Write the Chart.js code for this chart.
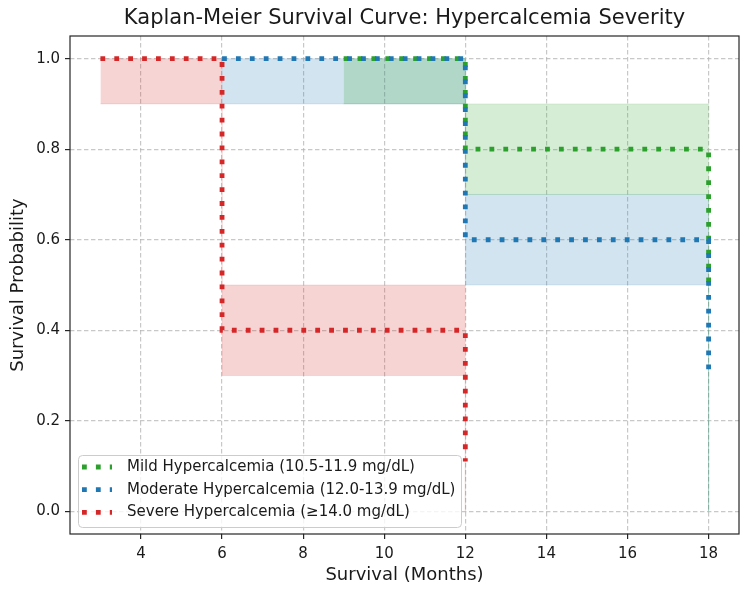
<!DOCTYPE html>
<html>
<head>
<meta charset="utf-8">
<script src="https://cdn.jsdelivr.net/npm/chart.js@4.4.0/dist/chart.umd.min.js"></script>
<style>
  html, body { margin: 0; padding: 0; background: #fff; }
</style>
</head>
<body>
<canvas id="grafico" width="750" height="596"></canvas>
<script>
// Survival steps (months / probability)
var mildTimes = [9, 12, 18];
var mildSurv = [1.0, 0.8, 0.5];
var mildLower = [0.9, 0.7, 0];
var mildUpper = [1.0, 0.9, 0];

var moderateTimes = [6, 12, 18];
var moderateSurv = [1.0, 0.6, 0.31];
var moderateLower = [0.9, 0.5, 0];
var moderateUpper = [1.0, 0.7, 0];

var severeTimes = [3, 6, 12];
var severeSurv = [1.0, 0.4, 0.11];
var severeLower = [0.9, 0.3, 0];
var severeUpper = [1.0, 0.5, 0];

var groupLabels = [
    'Mild Hypercalcemia (10.5-11.9 mg/dL)',
    'Moderate Hypercalcemia (12.0-13.9 mg/dL)',
    'Severe Hypercalcemia (\u226514.0 mg/dL)'
];
var groupColors = ['#2ca02c', '#1f77b4', '#d62728'];
var bandColors = ['rgba(44,160,44,0.2)', 'rgba(31,119,180,0.2)', 'rgba(214,39,40,0.2)'];
var bandEdges = ['rgba(44,160,44,0.12)', 'rgba(31,119,180,0.12)', 'rgba(214,39,40,0.12)'];

var xTicks = [4, 6, 8, 10, 12, 14, 16, 18];
var yTicks = [0, 0.2, 0.4, 0.6, 0.8, 1.0];

var titulo = 'Kaplan-Meier Survival Curve: Hypercalcemia Severity';
var fonte = 'DejaVu Sans';
var dotDash = [4.8, 9.1];

function pontos(times, values) {
    return times.map(function (t, i) { return { x: t, y: values[i] }; });
}

// in Chart.js 'before' gives the horizontal-then-vertical step here
function banda(times, values, idx, fillTarget) {
    return {
        data: pontos(times, values),
        stepped: 'before',
        borderColor: bandEdges[idx],
        borderWidth: 1,
        backgroundColor: bandColors[idx],
        pointRadius: 0,
        fill: fillTarget,
        order: 10
    };
}

function curva(times, values, idx) {
    return {
        label: groupLabels[idx],
        data: pontos(times, values),
        stepped: 'before',
        borderColor: groupColors[idx],
        borderWidth: 4.8,
        borderDash: dotDash,
        borderCapStyle: 'butt',
        pointRadius: 0,
        fill: false,
        order: 3 - idx,
        isCurve: true
    };
}

var datasets = [
    banda(mildTimes, mildLower, 0, false),
    banda(mildTimes, mildUpper, 0, 0),
    banda(moderateTimes, moderateLower, 1, false),
    banda(moderateTimes, moderateUpper, 1, 2),
    banda(severeTimes, severeLower, 2, false),
    banda(severeTimes, severeUpper, 2, 4),
    curva(mildTimes, mildSurv, 0),
    curva(moderateTimes, moderateSurv, 1),
    curva(severeTimes, severeSurv, 2)
];

// frame, title and legend like matplotlib
var extras = {
    id: 'extras',
    afterDraw: function (chart) {
        var ctx = chart.ctx;
        var a = chart.chartArea;
        ctx.save();

        ctx.fillStyle = '#1a1a1a';
        ctx.font = '21px "' + fonte + '"';
        ctx.textAlign = 'center';
        ctx.textBaseline = 'middle';
        ctx.fillText(titulo, (a.left + a.right) / 2, 19);

        // legenda
        var bx = a.left + 8, by = a.bottom - 79, bw = 383, bh = 72;
        ctx.beginPath();
        ctx.roundRect(bx + 0.5, by + 0.5, bw, bh, 4);
        ctx.fillStyle = 'rgba(255,255,255,0.8)';
        ctx.fill();
        ctx.strokeStyle = '#cccccc';
        ctx.lineWidth = 1;
        ctx.stroke();

        var curvas = chart.data.datasets.filter(function (d) { return d.isCurve; });
        ctx.font = '15px "' + fonte + '"';
        ctx.textAlign = 'left';
        curvas.forEach(function (d, i) {
            var cy = by + 12 + i * 22.7;
            ctx.beginPath();
            ctx.setLineDash(dotDash);
            ctx.lineCap = 'butt';
            ctx.lineWidth = 4.8;
            ctx.strokeStyle = d.borderColor;
            ctx.moveTo(bx + 4, cy);
            ctx.lineTo(bx + 34, cy);
            ctx.stroke();
            ctx.setLineDash([]);
            ctx.fillStyle = '#1a1a1a';
            ctx.fillText(d.label, bx + 49, cy);
        });

        ctx.strokeStyle = '#262626';
        ctx.lineWidth = 1.2;
        ctx.strokeRect(a.left, a.top, a.right - a.left, a.bottom - a.top);
        ctx.restore();
    }
};

var ctx = document.getElementById('grafico').getContext('2d');
var chartInstance = new Chart(ctx, {
    type: 'line',
    data: { datasets: datasets },
    options: {
        responsive: false,
        animation: false,
        devicePixelRatio: 1,
        layout: { padding: { top: 36, right: 11, bottom: 0, left: 0 } },
        plugins: {
            legend: { display: false },
            tooltip: { enabled: false }
        },
        scales: {
            x: {
                type: 'linear',
                min: 2.25,
                max: 18.75,
                afterBuildTicks: function (s) { s.ticks = xTicks.map(function (v) { return { value: v }; }); },
                afterFit: function (s) { s.height = 62; },
                ticks: {
                    autoSkip: false,
                    maxRotation: 0,
                    padding: 6,
                    color: '#1a1a1a',
                    font: { family: fonte, size: 15 },
                    callback: function (v) { return String(v); }
                },
                grid: {
                    color: 'rgba(176,176,176,0.7)',
                    lineWidth: 1.2,
                    tickLength: 5,
                    tickColor: '#262626',
                    tickWidth: 1.2
                },
                border: { display: false, dash: [4.4, 2.6] },
                title: {
                    display: true,
                    text: 'Survival (Months)',
                    color: '#1a1a1a',
                    font: { family: fonte, size: 18 },
                    padding: { top: 0, bottom: 10 }
                }
            },
            y: {
                type: 'linear',
                min: -0.05,
                max: 1.05,
                afterBuildTicks: function (s) { s.ticks = yTicks.map(function (v) { return { value: v }; }); },
                afterFit: function (s) { s.width = 70; },
                ticks: {
                    padding: 5,
                    color: '#1a1a1a',
                    font: { family: fonte, size: 15 },
                    callback: function (v) { return v.toFixed(1); }
                },
                grid: {
                    color: 'rgba(176,176,176,0.7)',
                    lineWidth: 1.2,
                    tickLength: 5,
                    tickColor: '#262626',
                    tickWidth: 1.2
                },
                border: { display: false, dash: [4.4, 2.6] },
                title: {
                    display: true,
                    text: 'Survival Probability',
                    color: '#1a1a1a',
                    font: { family: fonte, size: 18 },
                    padding: { top: 8, bottom: 0 }
                }
            }
        }
    },
    plugins: [extras]
});
</script>
</body>
</html>
